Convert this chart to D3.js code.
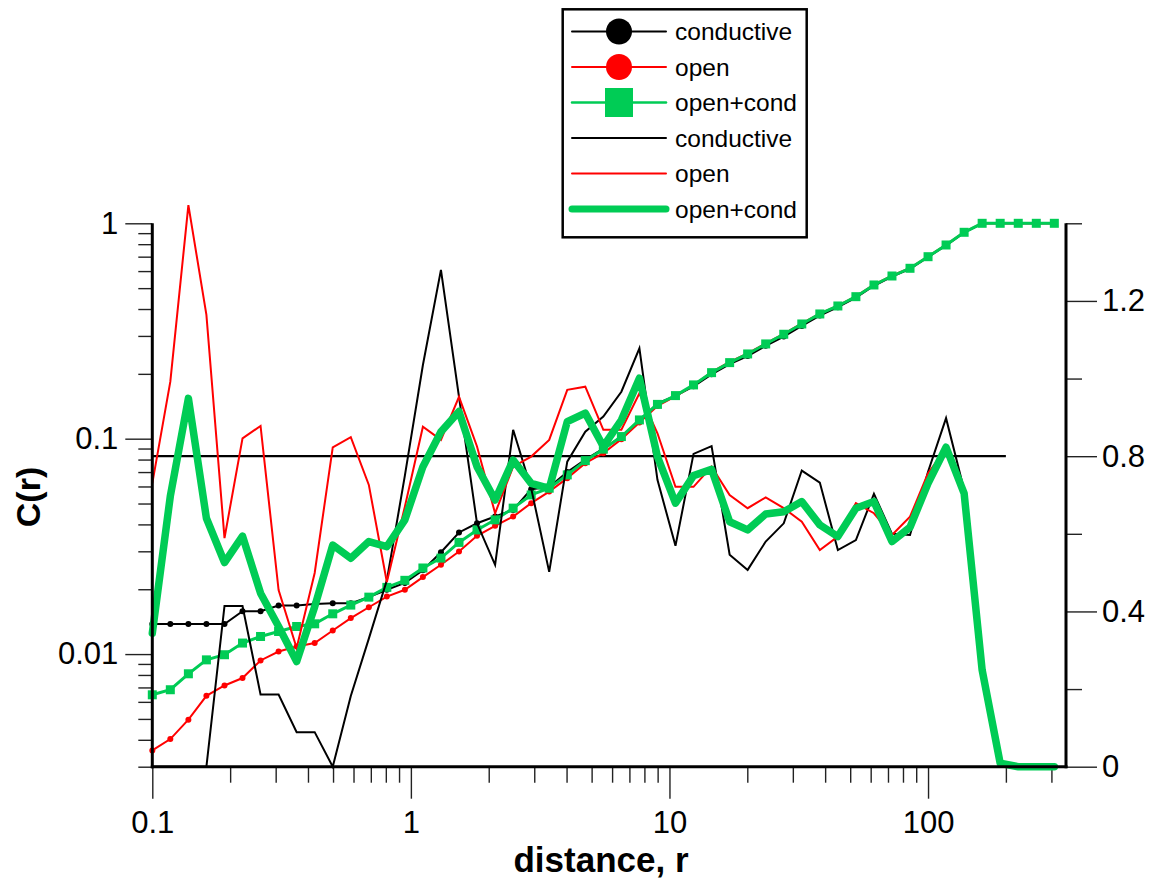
<!DOCTYPE html>
<html>
<head>
<meta charset="utf-8">
<script src="https://cdn.jsdelivr.net/npm/d3@7"></script>
<style>
  body { margin: 0; background: #fff; }
  svg { display: block; }
  text { font-family: "Liberation Sans", Arial, sans-serif; }
</style>
</head>
<body>
<svg id="chart" width="1150" height="888"></svg>
<script>
// distance r (log spaced bins)
const radius = [0.1, 0.1174, 0.1379, 0.1619, 0.1902, 0.2233, 0.2622, 0.3079, 0.3616, 0.4246,
  0.4987, 0.5856, 0.6877, 0.8073, 0.9479, 1.113, 1.307, 1.535, 1.802, 2.117,
  2.486, 2.919, 3.427, 4.025, 4.726, 5.550, 6.517, 7.652, 8.986, 10.55,
  12.39, 14.55, 17.09, 20.06, 23.56, 27.67, 32.49, 38.15, 44.80, 52.60,
  61.77, 72.53, 85.17, 100, 117.4, 137.9, 161.9, 190.1, 223.3, 262.2, 307.9];

// correlation integral C(r), left log axis
const condC = [0.0138, 0.0138, 0.0138, 0.0138, 0.0138, 0.0158, 0.0158, 0.0168, 0.0168, 0.0171,
  0.0172, 0.0172, 0.0184, 0.0199, 0.0214, 0.0245, 0.0297, 0.0367, 0.0405, 0.0435,
  0.0467, 0.0583, 0.0596, 0.0700, 0.0800, 0.0900, 0.1020, 0.1210, 0.1460, 0.158,
  0.175, 0.199, 0.222, 0.242, 0.270, 0.298, 0.334, 0.373, 0.408, 0.452,
  0.513, 0.566, 0.615, 0.697, 0.790, 0.905, 1, 1, 1, 1, 1];
const openC = [0.00357, 0.00403, 0.00496, 0.0064, 0.00715, 0.00774, 0.00934, 0.01028, 0.01085, 0.01125,
  0.01287, 0.01469, 0.0165, 0.0185, 0.01988, 0.02277, 0.02597, 0.02993, 0.0354, 0.0394,
  0.0435, 0.0502, 0.0568, 0.0656, 0.0770, 0.0856, 0.0995, 0.119, 0.142, 0.157,
  0.177, 0.204, 0.227, 0.249, 0.277, 0.307, 0.343, 0.381, 0.415, 0.458,
  0.519, 0.571, 0.620, 0.702, 0.795, 0.910, 1, 1, 1, 1, 1];
const combC = [0.00647, 0.00683, 0.0081, 0.0094, 0.00993, 0.01125, 0.01207, 0.01273, 0.01343, 0.01382,
  0.01538, 0.01688, 0.01838, 0.0204, 0.0220, 0.0251, 0.0279, 0.0330, 0.0377, 0.0420,
  0.0476, 0.0548, 0.0589, 0.0679, 0.0791, 0.0894, 0.1023, 0.1222, 0.1443, 0.1585,
  0.1777, 0.2026, 0.2255, 0.2474, 0.2754, 0.3054, 0.3409, 0.3794, 0.4132, 0.4564,
  0.5172, 0.5693, 0.6182, 0.6998, 0.7931, 0.9083, 1, 1, 1, 1, 1];

// local slope, right linear axis
const condSlope = [0, 0, 0, 0, 0.414, 0.414, 0.186, 0.186, 0.089, 0.089,
  0, 0.182, 0.33, 0.48, 0.75, 1.035, 1.28, 0.953, 0.627, 0.52,
  0.868, 0.717, 0.502, 0.786, 0.863, 0.902, 0.966, 1.078, 0.739, 0.569,
  0.806, 0.826, 0.546, 0.507, 0.580, 0.627, 0.763, 0.732, 0.558, 0.584,
  0.703, 0.600, 0.597, 0.760, 0.898, 0.713];
const openSlope = [0.730, 0.992, 1.447, 1.164, 0.589, 0.846, 0.878, 0.455, 0.306, 0.499,
  0.823, 0.849, 0.726, 0.476, 0.670, 0.876, 0.842, 0.953, 0.825, 0.653,
  0.773, 0.799, 0.842, 0.971, 0.979, 0.868, 0.868, 0.962, 0.859, 0.721,
  0.721, 0.773, 0.700, 0.666, 0.694, 0.666, 0.631, 0.558, 0.593, 0.679,
  0.653, 0.597, 0.644, 0.756, 0.820, 0.709];
const combSlope = [0.344, 0.697, 0.949, 0.640, 0.526, 0.594, 0.447, 0.361, 0.271, 0.412,
  0.571, 0.537, 0.580, 0.567, 0.636, 0.773, 0.863, 0.915, 0.773, 0.687,
  0.790, 0.730, 0.717, 0.889, 0.911, 0.825, 0.893, 1.001, 0.799, 0.679,
  0.750, 0.766, 0.631, 0.610, 0.651, 0.657, 0.683, 0.623, 0.593, 0.666,
  0.683, 0.580, 0.617, 0.730, 0.823, 0.704, 0.249, 0.009, 0, 0, 0];

// reference level on the slope axis
const levelR = [0.1, 200];
const levelV = [0.8, 0.8];

// ticks
const xMajor = [0.1, 1, 10, 100];
const xMajorLabels = ["0.1", "1", "10", "100"];
const xMinor = [0.2, 0.3, 0.4, 0.5, 0.6, 0.7, 0.8, 0.9, 2, 3, 4, 5, 6, 7, 8, 9,
  20, 30, 40, 50, 60, 70, 80, 90, 200, 300];
const yLeftMajor = [1, 0.1, 0.01];
const yLeftMajorLabels = ["1", "0.1", "0.01"];
const yLeftMinor = [0.9, 0.8, 0.7, 0.6, 0.5, 0.4, 0.3, 0.2,
  0.09, 0.08, 0.07, 0.06, 0.05, 0.04, 0.03, 0.02,
  0.009, 0.008, 0.007, 0.006, 0.005, 0.004, 0.003];
const yRightMajor = [0, 0.4, 0.8, 1.2];
const yRightMajorLabels = ["0", "0.4", "0.8", "1.2"];
const yRightMinor = [0.2, 0.6, 1.0, 1.4];

const legendLabels = ["conductive", "open", "open+cond", "conductive", "open", "open+cond"];

(function draw() {
  const GREEN = "#00cc55", RED = "#ff0000", BLACK = "#000000";
  const pL = 152.3, pR = 1066, pT = 223.3, pB = 766.7;

  const x = d3.scaleLog().domain([0.1, 341.6]).range([pL, pR]);
  const yL = d3.scaleLog().domain([0.003, 1]).range([pB, pT]);
  const yR = d3.scaleLinear().domain([0, 1.4]).range([pB, pT]);

  const svg = d3.select("#chart");

  // ---- axes ----
  function styleAxis(g, size) {
    g.select(".domain").remove();
    g.selectAll(".tick line").attr("stroke", "#222").attr("stroke-width", 1.4);
    g.selectAll(".tick text").attr("fill", "#000").attr("font-size", size)
      .attr("font-family", "'Liberation Sans', Arial, sans-serif");
  }

  svg.append("g").attr("transform", `translate(0,${pB})`)
    .call(d3.axisBottom(x).tickValues(xMinor).tickSize(16).tickFormat(""))
    .call(g => styleAxis(g, 31));
  svg.append("g").attr("transform", `translate(0,${pB})`)
    .call(d3.axisBottom(x).tickValues(xMajor).tickSize(32).tickPadding(12)
      .tickFormat((d, i) => xMajorLabels[i]))
    .call(g => styleAxis(g, 31));

  svg.append("g").attr("transform", `translate(${pL},0)`)
    .call(d3.axisLeft(yL).tickValues(yLeftMinor).tickSize(14).tickFormat(""))
    .call(g => styleAxis(g, 31));
  svg.append("g").attr("transform", `translate(${pL},0)`)
    .call(d3.axisLeft(yL).tickValues(yLeftMajor).tickSize(27).tickPadding(7)
      .tickFormat((d, i) => yLeftMajorLabels[i]))
    .call(g => styleAxis(g, 31));

  svg.append("g").attr("transform", `translate(${pR},0)`)
    .call(d3.axisRight(yR).tickValues(yRightMinor).tickSize(16).tickFormat(""))
    .call(g => styleAxis(g, 31));
  svg.append("g").attr("transform", `translate(${pR},0)`)
    .call(d3.axisRight(yR).tickValues(yRightMajor).tickSize(31).tickPadding(5)
      .tickFormat((d, i) => yRightMajorLabels[i]))
    .call(g => styleAxis(g, 31));

  // ---- series ----
  const lineL = d3.line().x(d => x(d[0])).y(d => yL(d[1]));
  const lineR = d3.line().x(d => x(d[0])).y(d => yR(d[1]));
  const pairs = (xs, ys) => ys.map((v, i) => [xs[i], v]);

  const plot = svg.append("g");

  // reference level
  plot.append("path").datum(pairs(levelR, levelV))
    .attr("d", lineR).attr("fill", "none").attr("stroke", BLACK).attr("stroke-width", 2.2);

  // cumulative curves with markers
  plot.append("path").datum(pairs(radius, condC)).attr("d", lineL)
    .attr("fill", "none").attr("stroke", BLACK).attr("stroke-width", 2);
  plot.append("g").selectAll("circle").data(pairs(radius, condC)).join("circle")
    .attr("cx", d => x(d[0])).attr("cy", d => yL(d[1])).attr("r", 3).attr("fill", BLACK);

  plot.append("path").datum(pairs(radius, openC)).attr("d", lineL)
    .attr("fill", "none").attr("stroke", RED).attr("stroke-width", 2);
  plot.append("g").selectAll("circle").data(pairs(radius, openC)).join("circle")
    .attr("cx", d => x(d[0])).attr("cy", d => yL(d[1])).attr("r", 3).attr("fill", RED);

  plot.append("path").datum(pairs(radius, combC)).attr("d", lineL)
    .attr("fill", "none").attr("stroke", GREEN).attr("stroke-width", 3);
  plot.append("g").selectAll("rect").data(pairs(radius, combC)).join("rect")
    .attr("x", d => x(d[0]) - 4.5).attr("y", d => yL(d[1]) - 4.5)
    .attr("width", 9).attr("height", 9).attr("fill", GREEN);

  // slope curves
  plot.append("path").datum(pairs(radius, condSlope)).attr("d", lineR)
    .attr("fill", "none").attr("stroke", BLACK).attr("stroke-width", 2);
  plot.append("path").datum(pairs(radius, openSlope)).attr("d", lineR)
    .attr("fill", "none").attr("stroke", RED).attr("stroke-width", 2);
  plot.append("path").datum(pairs(radius, combSlope)).attr("d", lineR)
    .attr("fill", "none").attr("stroke", GREEN).attr("stroke-width", 7.5)
    .attr("stroke-linejoin", "round").attr("stroke-linecap", "round");

  // axis frame lines
  const frame = svg.append("g").attr("stroke", BLACK).attr("stroke-width", 3).attr("fill", "none");
  frame.append("line").attr("x1", pL).attr("x2", pL).attr("y1", pT).attr("y2", pB + 1.5);
  frame.append("line").attr("x1", pR).attr("x2", pR).attr("y1", pT).attr("y2", pB + 1.5);
  frame.append("line").attr("x1", pL - 1.5).attr("x2", pR + 1.5).attr("y1", pB).attr("y2", pB);

  // axis titles
  svg.append("text").attr("x", 601).attr("y", 872).attr("text-anchor", "middle")
    .attr("font-size", 35).attr("font-weight", "bold").text("distance, r");
  svg.append("text").attr("transform", "translate(40,497) rotate(-90)").attr("text-anchor", "middle")
    .attr("font-size", 34).attr("font-weight", "bold").text("C(r)");

  // ---- legend ----
  const lg = svg.append("g");
  lg.append("rect").attr("x", 562.7).attr("y", 9.3).attr("width", 244).attr("height", 228)
    .attr("fill", "#fff").attr("stroke", BLACK).attr("stroke-width", 2.5);
  const rowY = i => 31.5 + i * 35.5;
  const legendStyles = [
    { c: BLACK, w: 2, m: "circle" },
    { c: RED, w: 2, m: "circle" },
    { c: GREEN, w: 2.5, m: "square" },
    { c: BLACK, w: 2, m: null },
    { c: RED, w: 2, m: null },
    { c: GREEN, w: 7, m: null }
  ];
  legendStyles.forEach((s, i) => {
    const yy = rowY(i);
    lg.append("line").attr("x1", 572).attr("x2", 666).attr("y1", yy).attr("y2", yy)
      .attr("stroke", s.c).attr("stroke-width", s.w).attr("stroke-linecap", "round");
    if (s.m === "circle") {
      lg.append("circle").attr("cx", 619).attr("cy", yy).attr("r", 13).attr("fill", s.c);
    } else if (s.m === "square") {
      lg.append("rect").attr("x", 605).attr("y", yy - 14.5).attr("width", 28).attr("height", 29).attr("fill", s.c);
    }
    lg.append("text").attr("x", 675).attr("y", yy).attr("dy", "0.35em")
      .attr("font-size", 24.5).attr("fill", BLACK).text(legendLabels[i]);
  });
})();
</script>
</body>
</html>
